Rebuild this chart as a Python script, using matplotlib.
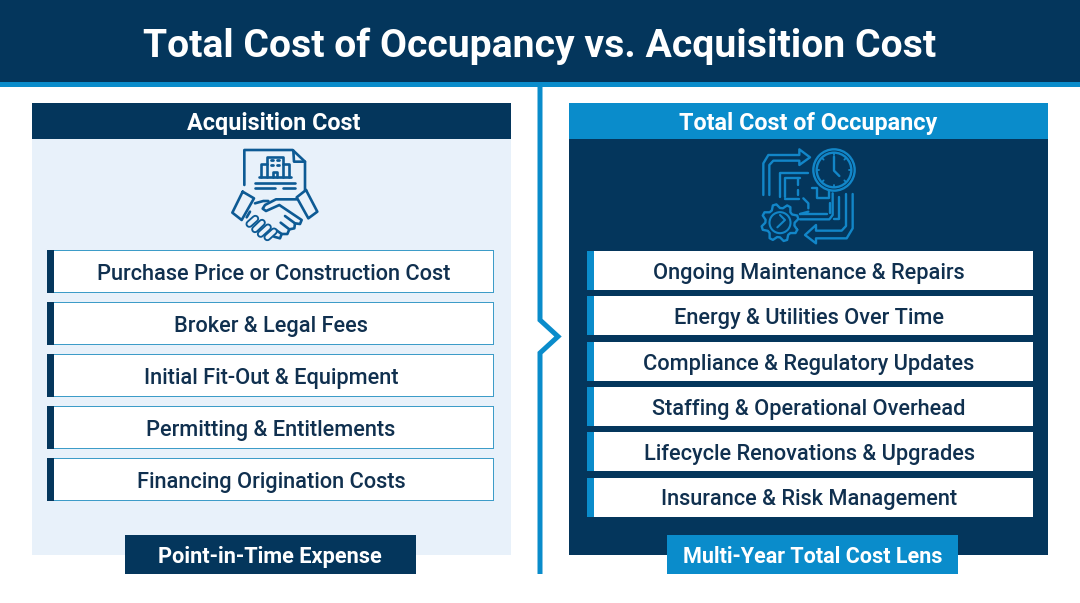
#coding=utf8
# Total cost of occupancy vs acquisition cost panel graphic
import numpy as np
import matplotlib
matplotlib.use('Agg')
import matplotlib.pyplot as plt
from matplotlib.patches import Rectangle, Circle

title = 'Total Cost of Occupancy vs. Acquisition Cost'
left_header = 'Acquisition Cost'
right_header = 'Total Cost of Occupancy'
left_footer = 'Point-in-Time Expense'
right_footer = 'Multi-Year Total Cost Lens'

left_items = ['Purchase Price or Construction Cost', 'Broker & Legal Fees',
              'Initial Fit-Out & Equipment', 'Permitting & Entitlements',
              'Financing Origination Costs']
right_items = ['Ongoing Maintenance & Repairs', 'Energy & Utilities Over Time',
               'Compliance & Regulatory Updates', 'Staffing & Operational Overhead',
               'Lifecycle Renovations & Upgrades', 'Insurance & Risk Management']

navy = '#04365c'
blue = '#0a8ccb'
pale = '#e8f1fa'
ink = '#10304f'
iconblue = '#1286c8'

plt.rcParams['font.family'] = ['Roboto', 'DejaVu Sans']

fig = plt.figure(figsize=(10.8, 6.03), dpi=100)
ax = fig.add_axes([0, 0, 1, 1])
ax.set_xlim(0, 1080)
ax.set_ylim(603, 0)
ax.axis('off')

def box(x0, y0, x1, y1, color, z=1, **kw):
    ax.add_patch(Rectangle((x0, y0), x1 - x0, y1 - y0, facecolor=color, edgecolor='none', zorder=z, **kw))

def label(x, y, s, size, color, weight=500):
    ax.text(x, y, s, ha='center', va='center_baseline', fontsize=size, color=color, fontweight=weight, zorder=6)

# title band
box(0, 0, 1080, 82, navy)
box(0, 82, 1080, 87, blue)
label(540, 42, title, 28.2, 'white', 700)

# centre divider with chevron
ax.plot([540, 540, 558, 540, 540], [87, 320, 336.5, 353, 574], color=blue, lw=3.6,
        solid_joinstyle='miter', solid_capstyle='butt', zorder=2)

# panels
box(32, 103, 511, 555, pale)
box(32, 103, 511, 139, navy, 2)
label(274, 121, left_header, 16.8, 'white', 700)
box(568.5, 103, 1048, 555, navy)
box(568.5, 103, 1048, 139, blue, 2)
label(808, 121, right_header, 16.8, 'white', 700)

# left list
for i, s in enumerate(left_items):
    y0 = 250 + i * 52
    box(47, y0, 494, y0 + 43, '#3d9cc8', 2)
    box(54, y0 + 1, 493, y0 + 42, 'white', 3)
    box(47, y0, 54, y0 + 43, navy, 4)
    label(274 if i == 0 else 271, y0 + 22, s, 15.65, ink)

# right list
for i, s in enumerate(right_items):
    y0 = 251 + i * 45.3
    box(587, y0, 1033, y0 + 39, 'white', 2)
    box(587, y0, 594, y0 + 39, blue, 3)
    label(809, y0 + 20, s, 15.65, ink)

# footers
box(125, 535, 416, 574, navy, 4)
label(270, 554.5, left_footer, 15.7, 'white', 700)
box(667, 535, 958, 574, blue, 4)
label(813, 554.5, right_footer, 15.5, 'white', 700)

# ---- icons, traced in zoomed crop coordinates (3x)
def icon_line(ox, oy, pts, color, lw=1.7):
    p = np.array(pts, dtype=float)
    ax.plot(ox + p[:, 0] / 3, oy + p[:, 1] / 3, color=color, lw=lw, zorder=5,
            solid_capstyle='round', solid_joinstyle='round')

doc = '#0d5a94'
for pts in [
    [(133, 135), (133, 30), (278, 30), (315, 65), (315, 150)],
    [(280, 32), (282, 65), (315, 65)],
    [(183, 110), (183, 72), (202, 72)], [(248, 72), (268, 72), (268, 110)],
    [(202, 110), (202, 50), (248, 50), (248, 110)],
    [(178, 112), (272, 112)], [(218, 112), (218, 95), (232, 95), (232, 112)],
    [(165, 128), (285, 128)], [(165, 145), (225, 145)], [(250, 145), (285, 145)],
    [(128, 155), (162, 175), (125, 240), (97, 218), (128, 155)],
    [(318, 150), (290, 172), (325, 235), (352, 215), (318, 150)],
    [(165, 190), (190, 183), (205, 183)],
    [(290, 178), (228, 178), (195, 195), (188, 206), (198, 213), (238, 195), (305, 240), (300, 252), (285, 250), (255, 228)],
    [(285, 250), (283, 265), (268, 268), (242, 248)],
    [(268, 268), (262, 282), (245, 282), (228, 270)],
    [(245, 282), (240, 295), (222, 290)],
    [(150, 215), (140, 232)],
]:
    icon_line(200, 140, pts, doc, lw=1.9)

# knuckles of the left hand and building windows
for x0, y0, x1, y1 in [(148, 252, 166, 236), (165, 268, 186, 248), (182, 282, 204, 262), (202, 292, 222, 274)]:
    icon_line(200, 140, [(x0, y0), (x1, y1)], doc, lw=5.5)
    icon_line(200, 140, [(x0, y0), (x1, y1)], pale, lw=2.8)
for x in [214, 232]:
    for y in [60, 74]:
        icon_line(200, 140, [(x, y), (x + 4, y)], doc, lw=2)

for r in [62, 52]:
    ax.add_patch(Circle((740 + 282 / 3, 140 + 90 / 3), r / 3, fill=False, edgecolor=iconblue, lw=1.7, zorder=5))
for a in np.arange(0, 360, 45):
    ca, sa = np.cos(np.radians(a)), np.sin(np.radians(a))
    icon_line(740, 140, [(282 + 44 * ca, 90 + 44 * sa), (282 + 50 * ca, 90 + 50 * sa)], iconblue, lw=1.3)
for pts in [
    [(282, 50), (282, 92), (298, 108)],
    [(70, 165), (70, 70), (85, 45), (178, 45), (178, 28), (210, 52), (178, 75), (178, 62), (100, 62), (88, 75), (88, 165)],
    [(120, 170), (120, 100), (205, 100)], [(135, 170), (135, 115), (180, 115)],
    [(135, 178), (178, 178)], [(175, 115), (175, 135)], [(175, 150), (175, 165)],
    [(190, 175), (205, 190), (205, 205)], [(180, 222), (205, 215)],
    [(215, 145), (232, 145), (232, 175), (268, 175), (268, 152)],
    [(180, 238), (268, 238), (278, 225), (278, 160)],
    [(180, 222), (262, 222)], [(270, 190), (270, 218)],
    [(338, 162), (338, 265), (320, 295), (228, 295), (228, 310), (195, 285), (228, 255), (228, 272), (305, 272), (318, 258), (318, 162)],
    [(282, 238), (298, 238), (298, 170)],
]:
    icon_line(740, 140, pts, iconblue, lw=1.7)

# gear
n = 8
ang = np.linspace(0, 2 * np.pi, n * 4 + 1) + np.pi / 8
rad = np.tile([56, 56, 44, 44], n + 1)[:n * 4 + 1]
icon_line(740, 140, np.c_[120 + rad * np.cos(ang), 248 + rad * np.sin(ang)], iconblue, lw=1.7)
ax.add_patch(Circle((740 + 40, 140 + 248 / 3), 10.5, fill=False, edgecolor=iconblue, lw=1.5, zorder=5))
icon_line(740, 140, [(120, 225), (135, 240), (112, 262)], iconblue, lw=1.5)

fig.savefig('out.png', dpi=100, facecolor='white')
